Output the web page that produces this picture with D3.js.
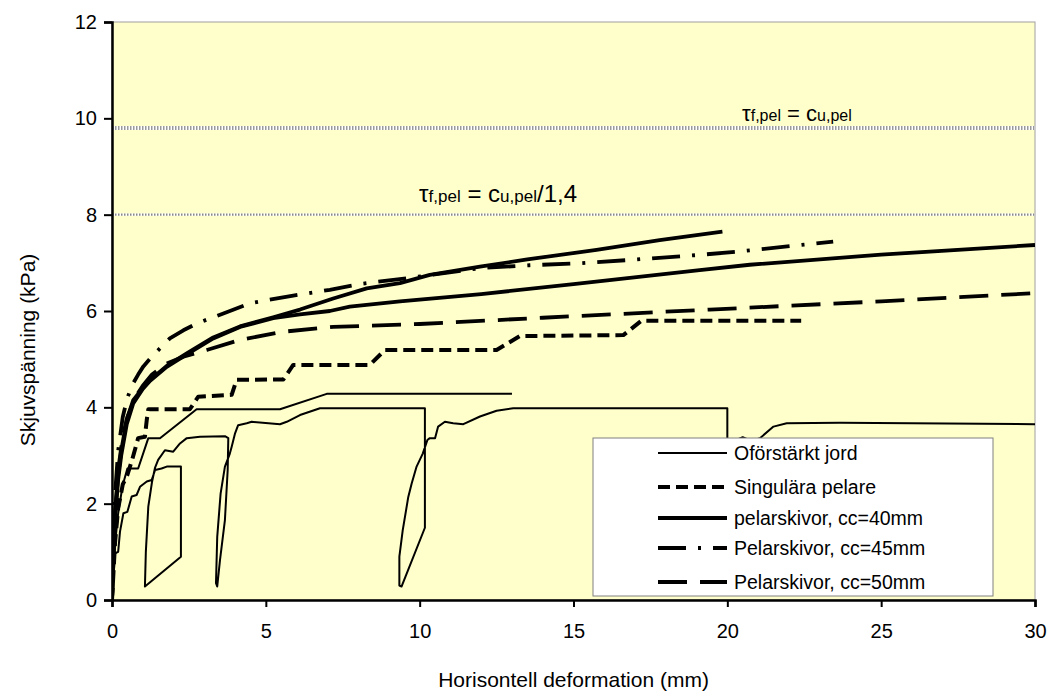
<!DOCTYPE html>
<html>
<head>
<meta charset="utf-8">
<script src="https://cdn.jsdelivr.net/npm/d3@7"></script>
<style>
  body { margin: 0; background: #fff; }
  svg { display: block; font-family: "Liberation Sans", Arial, sans-serif; }
</style>
</head>
<body>
<svg width="1049" height="695"></svg>
<script>
// tick values
const xTicks = [0, 5, 10, 15, 20, 25, 30];
const yTicks = [0, 2, 4, 6, 8, 10, 12];

// limit lines (kPa)
const tauFull = 9.8;
const tauReduced = 8.0;

// Oförstärkt jord, test med avlastningsslingor
const ofJord1 = [[0,0],[0.05,0.5],[0.1,0.97],[0.2,1.0],[0.26,1.42],[0.37,1.8],[0.5,1.83],[0.64,2.15],[0.8,2.18],[0.91,2.35],[1.13,2.46],[1.29,2.49],[1.4,2.7],[1.61,2.73],[1.78,2.77],[2.24,2.77],[2.24,0.9],[1.07,0.28],[1.1,1.0],[1.18,1.94],[1.3,2.45],[1.4,2.75],[1.5,2.91],[1.72,3.11],[1.99,3.08],[2.21,3.25],[2.43,3.36],[2.86,3.39],[3.67,3.4],[3.78,3.36],[3.76,2.7],[3.67,1.66],[3.51,0.83],[3.42,0.28],[3.38,0.35],[3.42,1.31],[3.53,2.21],[3.67,2.77],[3.83,3.04],[3.89,3.18],[4.0,3.46],[4.1,3.63],[4.38,3.67],[4.54,3.7],[5.46,3.65],[5.68,3.7],[6.11,3.84],[6.76,3.98],[10.17,3.98],[10.17,1.5],[9.41,0.28],[9.34,0.3],[9.34,0.9],[9.45,1.45],[9.63,2.14],[9.74,2.42],[9.9,2.77],[10.1,3.04],[10.25,3.32],[10.33,3.36],[10.5,3.36],[10.6,3.6],[10.82,3.7],[11.09,3.67],[11.42,3.65],[11.96,3.81],[12.5,3.93],[13.04,3.98],[20.0,3.98],[20.0,1.5],[19.3,0.3],[19.35,1.5],[19.6,2.6],[19.9,3.1],[20.2,3.3],[20.5,3.38],[20.8,3.3],[21.06,3.36],[21.5,3.6],[21.93,3.67],[23.66,3.68],[30,3.65]];
// Oförstärkt jord, andra testet
const ofJord2 = [[0,0],[0.05,0.7],[0.12,1.3],[0.2,1.8],[0.3,2.2],[0.4,2.5],[0.5,2.73],[0.85,2.73],[1.18,3.36],[1.56,3.36],[2.75,3.96],[5.46,3.96],[6.98,4.28],[13.0,4.28]];
// Singulära pelare
const singular = [[0,0],[0.1,1.2],[0.2,1.9],[0.35,2.4],[0.5,2.6],[0.65,2.9],[0.85,3.36],[1.07,3.39],[1.13,3.74],[1.18,3.96],[2.53,3.96],[2.8,4.22],[3.89,4.26],[4.05,4.57],[5.57,4.58],[5.89,4.88],[8.38,4.88],[8.87,5.19],[12.5,5.19],[13.26,5.48],[16.62,5.5],[17.21,5.8],[22.4,5.8]];
// pelarskivor cc=40mm (två försök)
const cc40a = [[0,0],[0.05,1.0],[0.1,1.8],[0.2,2.6],[0.3,3.1],[0.48,3.74],[0.69,4.15],[1.0,4.4],[1.24,4.57],[1.78,4.86],[2.43,5.12],[3.29,5.45],[4.16,5.68],[5.24,5.87],[6.11,6.03],[7.19,6.26],[8.28,6.47],[9.36,6.58],[10.33,6.75],[11.96,6.92],[13.5,7.07],[15.75,7.27],[17.8,7.47],[19.84,7.65]];
const cc40b = [[0,0],[0.05,0.9],[0.1,1.7],[0.2,2.5],[0.3,3.0],[0.48,3.65],[0.69,4.08],[1.0,4.38],[1.24,4.55],[1.78,4.84],[2.43,5.1],[3.29,5.43],[4.16,5.67],[5.24,5.85],[6.11,5.93],[7.08,6.0],[7.73,6.09],[9.36,6.2],[12,6.35],[15,6.56],[19.1,6.85],[20.73,6.96],[25,7.17],[30,7.37]];
// Pelarskivor cc=45mm
const cc45 = [[0,0],[0.05,1.2],[0.1,2.2],[0.2,3.1],[0.35,3.8],[0.5,4.2],[0.69,4.5],[0.85,4.68],[1.02,4.85],[1.29,5.05],[1.88,5.43],[2.32,5.6],[2.75,5.74],[3.62,5.95],[4.48,6.16],[5.89,6.32],[7.08,6.44],[8.17,6.57],[9.58,6.68],[11.96,6.89],[13.58,6.95],[15.21,6.99],[16.83,7.06],[19.0,7.16],[20.3,7.23],[23.44,7.44]];
// Pelarskivor cc=50mm
const cc50 = [[0,0],[0.05,1.0],[0.1,1.8],[0.2,2.7],[0.35,3.4],[0.5,3.8],[0.75,4.2],[1.0,4.45],[1.3,4.68],[1.78,4.91],[2.32,5.05],[3.08,5.19],[4.16,5.4],[5.57,5.57],[7.19,5.67],[10,5.73],[14,5.86],[19.43,6.03],[25,6.2],[30,6.37]];

const legendLabels = ["Oförstärkt jord", "Singulära pelare", "pelarskivor, cc=40mm", "Pelarskivor, cc=45mm", "Pelarskivor, cc=50mm"];

const styles = {
  thin:   { w: 2,   dash: null },
  dashed: { w: 4,   dash: "12,6" },
  thick:  { w: 3.8, dash: null },
  dashdot:{ w: 3.8, dash: "28,12,3,12" },
  long:   { w: 3.8, dash: "29,13" }
};

const series = [
  { data: ofJord1, s: styles.thin },
  { data: ofJord2, s: styles.thin },
  { data: singular, s: styles.dashed },
  { data: cc40a, s: styles.thick },
  { data: cc40b, s: styles.thick },
  { data: cc45, s: styles.dashdot },
  { data: cc50, s: styles.long }
];
const legendStyles = [styles.thin, styles.dashed, styles.thick, styles.dashdot, styles.long];

const margin = { top: 22, right: 14, bottom: 95, left: 112 };
const W = 1049, H = 695;
const w = W - margin.left - margin.right;
const h = H - margin.top - margin.bottom;

const svg = d3.select("svg");
const g = svg.append("g").attr("transform", `translate(${margin.left},${margin.top})`);

const x = d3.scaleLinear().domain([0, 30]).range([0, w]);
const y = d3.scaleLinear().domain([0, 12]).range([h, 0]);

// plot area
g.append("rect").attr("width", w).attr("height", h)
  .attr("fill", "#ffffcc").attr("stroke", "#a0a0a0").attr("stroke-width", 1);

svg.append("defs").append("clipPath").attr("id", "clip")
  .append("rect").attr("width", w).attr("height", h);

// limit lines
[[tauFull, 4, "#9a9a9a"], [tauReduced, 2.2, "#8a8a8a"]].forEach(([v, sw, c]) => {
  g.append("line").attr("x1", 0).attr("x2", w).attr("y1", y(v)).attr("y2", y(v))
    .attr("stroke", "#fff").attr("stroke-width", sw);
  g.append("line").attr("x1", 0).attr("x2", w).attr("y1", y(v)).attr("y2", y(v))
    .attr("stroke", c).attr("stroke-width", sw).attr("stroke-dasharray", "1.5,1.5");
});

const line = d3.line().x(d => x(d[0])).y(d => y(d[1]));

const gl = g.append("g").attr("clip-path", "url(#clip)");
series.forEach(sr => {
  gl.append("path").datum(sr.data)
    .attr("fill", "none").attr("stroke", "#000")
    .attr("stroke-width", sr.s.w)
    .attr("stroke-dasharray", sr.s.dash)
    .attr("stroke-linejoin", "round")
    .attr("d", line);
});

// axes
const xAxis = g.append("g").attr("transform", `translate(0,${h})`)
  .call(d3.axisBottom(x).tickValues(xTicks).tickSize(7).tickPadding(17).tickFormat(d3.format("d")));
const yAxis = g.append("g")
  .call(d3.axisLeft(y).tickValues(yTicks).tickSize(8).tickPadding(7).tickFormat(d3.format("d")));
[xAxis, yAxis].forEach(a => {
  a.select(".domain").attr("stroke", "#000").attr("stroke-width", 2.5);
  a.selectAll(".tick line").attr("stroke", "#000").attr("stroke-width", 2);
  a.selectAll(".tick text").attr("fill", "#000").style("font-size", "20px")
    .style("font-family", "Liberation Sans, Arial, sans-serif");
});

// axis titles
svg.append("text").attr("x", margin.left + w / 2).attr("y", 687)
  .attr("text-anchor", "middle").style("font-size", "21px")
  .text("Horisontell deformation (mm)");
svg.append("text").attr("transform", "translate(35,350) rotate(-90)")
  .attr("text-anchor", "middle").style("font-size", "21px")
  .text("Skjuvspänning (kPa)");

// limit labels
const t1 = g.append("text").attr("x", 630).attr("y", y(tauFull) - 7);
t1.append("tspan").style("font-size", "22px").text("τ");
t1.append("tspan").style("font-size", "16px").text("f,pel");
t1.append("tspan").style("font-size", "22px").text(" = c");
t1.append("tspan").style("font-size", "16px").text("u,pel");

const t2 = g.append("text").attr("x", 465).attr("y", y(tauReduced) - 13)
  .attr("text-anchor", "end");
t2.append("tspan").style("font-size", "24px").text("τ");
t2.append("tspan").style("font-size", "17px").text("f,pel");
t2.append("tspan").style("font-size", "24px").text(" = c");
t2.append("tspan").style("font-size", "17px").text("u,pel");
t2.append("tspan").style("font-size", "24px").text("/1,4");

// legend
const lg = svg.append("g").attr("transform", "translate(593,438)");
lg.append("rect").attr("width", 400).attr("height", 158)
  .attr("fill", "#fff").attr("stroke", "#808080").attr("stroke-width", 1);
const rowY = [15, 49, 80, 110, 144];
legendLabels.forEach((lab, i) => {
  const st = legendStyles[i];
  lg.append("line").attr("x1", 65).attr("x2", 134).attr("y1", rowY[i]).attr("y2", rowY[i])
    .attr("stroke", "#000").attr("stroke-width", st.w).attr("stroke-dasharray", st.dash);
  lg.append("text").attr("x", 141).attr("y", rowY[i] + 7)
    .style("font-size", "19.5px").text(lab);
});
</script>
</body>
</html>
